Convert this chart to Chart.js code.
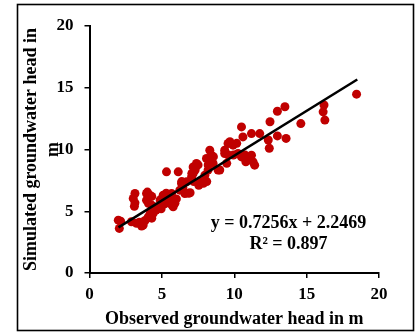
<!DOCTYPE html>
<html>
<head>
<meta charset="utf-8">
<script src="https://cdn.jsdelivr.net/npm/chart.js@4.4.0/dist/chart.umd.min.js"></script>
<style>
  body { margin: 0; background: #fff; }
  #wrap { width: 418px; height: 334px; position: relative; }
</style>
</head>
<body>
<div id="wrap"><canvas id="chart" width="418" height="334"></canvas></div>
<script>
// observed vs simulated groundwater head (m)
const observed = [1.99, 2.06, 2.15, 2.9, 3.02, 3.14, 3.14, 3.1, 3.25, 3.45, 3.6, 3.71, 3.84, 3.94, 3.94, 4.0,
  4.07, 4.17, 4.3, 4.29, 4.06, 4.2, 4.3, 4.4, 4.42, 4.6, 4.86, 4.88, 4.95, 5.09, 5.2, 5.3, 5.32, 5.4, 5.55,
  5.67, 5.68, 5.78, 5.9, 6.0, 6.13, 6.24, 6.36, 6.37, 6.45, 6.59, 6.7, 6.84, 6.95, 7.05, 7.07, 7.16, 7.16,
  7.2, 7.28, 7.3, 7.39, 7.5, 7.55, 7.62, 7.87, 7.97, 8.08, 8.1, 8.19, 8.2, 8.31, 8.33, 8.43, 8.54, 8.56,
  8.88, 9.0, 9.34, 9.34, 9.48, 9.57, 9.6, 9.7, 9.92, 9.94, 10.17, 10.26, 10.5, 10.5, 10.6, 10.75, 10.84,
  10.8, 11.19, 11.19, 11.3, 11.41, 11.76, 12.35, 12.42, 12.47, 12.98, 12.98, 13.5, 13.58, 14.6, 16.2,
  16.14, 16.26, 18.45];
const simulated = [4.28, 3.61, 4.2, 4.15, 6.04, 6.44, 5.68, 5.4, 4.02, 4.1, 3.8, 3.88, 4.25, 6.44, 5.9, 6.55,
  5.65, 6.3, 6.2, 5.5, 4.55, 4.85, 4.44, 4.83, 5.38, 5.1, 5.36, 5.92, 5.2, 6.3, 5.6, 6.46, 8.19, 5.9, 5.9,
  6.44, 5.52, 5.36, 5.65, 6.0, 8.19, 6.71, 7.25, 7.4, 6.9, 6.44, 7.38, 6.46, 6.5, 7.78, 8.07, 8.06, 8.59,
  7.4, 8.46, 8.34, 8.87, 8.75, 7.1, 7.38, 7.27, 7.92, 9.27, 7.4, 8.33, 8.75, 9.94, 9.28, 9.54, 8.87, 9.42,
  8.33, 8.34, 9.94, 9.68, 8.88, 10.49, 9.55, 10.63, 10.35, 9.55, 10.5, 9.68, 9.4, 11.83, 11.02, 9.55, 9.27,
  9.0, 11.29, 9.54, 9.0, 8.73, 11.29, 10.77, 10.1, 12.25, 13.1, 11.1, 13.46, 10.9, 12.1, 13.6, 13.05,
  12.38, 14.48];
const slope = 0.7256;
const intercept = 2.2469;
const rSquared = 0.897;
const fitRange = [2.0, 18.5];
const axisTicks = [0, 5, 10, 15, 20];

const FONT = '"Liberation Serif", "Times New Roman", serif';

const points = observed.map((x, i) => ({ x: x, y: simulated[i] }));
const fitLine = fitRange.map(x => ({ x: x, y: slope * x + intercept }));

// outer frame + equation text
const extras = {
  id: 'extras',
  afterDraw(chart) {
    const ctx = chart.ctx;
    const xs = chart.scales.x, ys = chart.scales.y;
    ctx.save();
    ctx.strokeStyle = '#000';
    ctx.lineWidth = 1.6;
    ctx.strokeRect(17.5, 4.5, 396, 326);
    ctx.fillStyle = '#000';
    ctx.font = 'bold 18px ' + FONT;
    ctx.textAlign = 'center';
    ctx.textBaseline = 'middle';
    const cx = xs.getPixelForValue(13.75);
    ctx.fillText('y = ' + slope + 'x + ' + intercept, cx, ys.getPixelForValue(4.05));
    ctx.fillText('R² = ' + rSquared, cx, ys.getPixelForValue(2.35));
    ctx.restore();
  }
};

new Chart(document.getElementById('chart'), {
  type: 'scatter',
  data: {
    datasets: [
      {
        type: 'line',
        data: fitLine,
        borderColor: '#000',
        borderWidth: 2.5,
        pointRadius: 0,
        fill: false,
        order: 0
      },
      {
        data: points,
        backgroundColor: '#C00000',
        borderColor: '#C00000',
        borderWidth: 0,
        pointRadius: 4.5,
        order: 1
      }
    ]
  },
  options: {
    responsive: false,
    animation: false,
    layout: { padding: { top: 26, right: 39, left: 0, bottom: 0 } },
    plugins: { legend: { display: false }, tooltip: { enabled: false } },
    scales: {
      x: {
        type: 'linear',
        min: 0, max: 20,
        afterBuildTicks(s) { s.ticks = axisTicks.map(v => ({ value: v })); },
        afterFit(s) { s.height = 61; },
        border: { color: '#000', width: 2 },
        grid: { drawOnChartArea: false, drawTicks: true, tickLength: 5, color: '#000', lineWidth: 1.5 },
        ticks: { color: '#000', padding: 6, font: { family: FONT, size: 17, weight: 'bold' } },
        title: {
          display: true,
          text: 'Observed groundwater head in m',
          color: '#000',
          padding: { top: 0, bottom: 4 },
          font: { family: FONT, size: 18, weight: 'bold' }
        }
      },
      y: {
        type: 'linear',
        min: 0, max: 20,
        afterBuildTicks(s) { s.ticks = axisTicks.map(v => ({ value: v })); },
        afterFit(s) { s.width = 89.5; },
        border: { color: '#000', width: 2 },
        grid: { drawOnChartArea: false, drawTicks: true, tickLength: 5, color: '#000', lineWidth: 1.5 },
        ticks: { color: '#000', padding: 11, font: { family: FONT, size: 17, weight: 'bold' } },
        title: {
          display: true,
          text: ['Simulated groundwater head in', 'm'],
          color: '#000',
          padding: { top: 21, bottom: 0 },
          font: { family: FONT, size: 18, weight: 'bold' }
        }
      }
    }
  },
  plugins: [extras]
});
</script>
</body>
</html>
